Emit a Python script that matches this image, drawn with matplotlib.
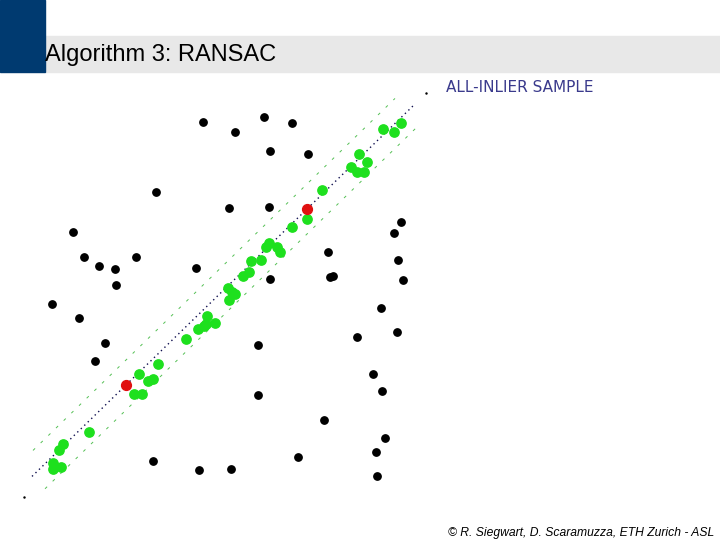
import numpy as np
import matplotlib
matplotlib.use("Agg")
import matplotlib.pyplot as plt
from matplotlib.patches import Rectangle

# ---------------------------------------------------------
# data (picture coordinates, x right, y down)
# ---------------------------------------------------------
outliers_x = [203, 235, 264, 292, 270, 308, 156, 229, 269, 73, 84, 99, 115, 136,
              116, 196, 52, 79, 105, 95, 258, 270, 401, 394, 398, 403, 328, 330,
              333, 381, 397, 357, 373, 382, 258, 324, 385, 376, 153, 199, 231,
              298, 377]
outliers_y = [122, 132, 117, 123, 151, 154, 192, 208, 207, 232, 257, 266, 269, 257,
              285, 268, 304, 318, 343, 361, 345, 279, 222, 233, 260, 280, 252, 277,
              276, 308, 332, 337, 374, 391, 395, 420, 438, 452, 461, 470, 469,
              457, 476]

inliers_x = [401, 383, 394, 359, 367, 351, 357, 364, 322, 307, 292, 269, 266, 277,
             280, 251, 261, 249, 243, 228, 232, 235, 229, 207, 206, 204, 215, 198,
             186, 158, 139, 153, 148, 134, 142, 89, 63, 59, 53, 53, 61]
inliers_y = [123, 129, 132, 154, 162, 167, 172, 172, 190, 219, 227, 243, 247, 247,
             252, 261, 260, 272, 276, 288, 292, 294, 300, 316, 324, 326, 323, 329,
             339, 364, 374, 379, 381, 394, 394, 432, 444, 450, 463, 469, 467]

sample_x = [126, 307]
sample_y = [385, 209]

# fitted line through the two samples, and threshold band
line_x = [32, 415]
band_up_x = [33, 395]
band_low_x = [45, 420]
band_offset = 25

title = "Algorithm 3: RANSAC"
label = "ALL-INLIER SAMPLE"
credit = "© R. Siegwart, D. Scaramuzza, ETH Zurich - ASL"

# ---------------------------------------------------------
# figure
# ---------------------------------------------------------
fig = plt.figure(figsize=(7.2, 5.4), dpi=100)
ax = fig.add_axes([0, 0, 1, 1])
ax.set_xlim(0, 720)
ax.set_ylim(540, 0)
ax.axis("off")

# header
ax.add_patch(Rectangle((45, 36), 675, 36, color="#e8e8e8", zorder=1))
ax.add_patch(Rectangle((0, 0), 45, 72, color="#003a70", zorder=2))
ax.text(45, 55, title, fontsize=17, family="Liberation Sans",
        va="center", ha="left", zorder=3)

# model line and band
slope = (sample_y[1] - sample_y[0]) / (sample_x[1] - sample_x[0])


def line_y(xs, off=0):
    return [sample_y[0] + slope * (x - sample_x[0]) + off for x in xs]


ax.plot(line_x, line_y(line_x), color="#101050", lw=1, ls=(0, (1, 2.5)), zorder=4)
ax.plot(band_up_x, line_y(band_up_x, -band_offset), color="#55c055", lw=0.7,
        ls=(0, (3, 8)), zorder=4)
ax.plot(band_low_x, line_y(band_low_x, band_offset), color="#55c055", lw=0.7,
        ls=(0, (3, 8)), zorder=4)
ax.plot([426, 24], [93, 497], ls="none", marker=".", ms=1.5, color="black")

# points
ax.scatter(outliers_x, outliers_y, s=28, color="black", zorder=5)
ax.scatter(inliers_x, inliers_y, s=45, color="#1ee01e", zorder=5)
ax.scatter(sample_x, sample_y, s=50, color="#e01010", zorder=6)

ax.text(446, 88, label, fontsize=11, family="DejaVu Sans", color="#3a3a8c",
        va="center", ha="left")
ax.text(714, 533, credit, fontsize=8.7, family="Liberation Sans", style="italic",
        va="center", ha="right")

fig.savefig("out.png", dpi=100)
